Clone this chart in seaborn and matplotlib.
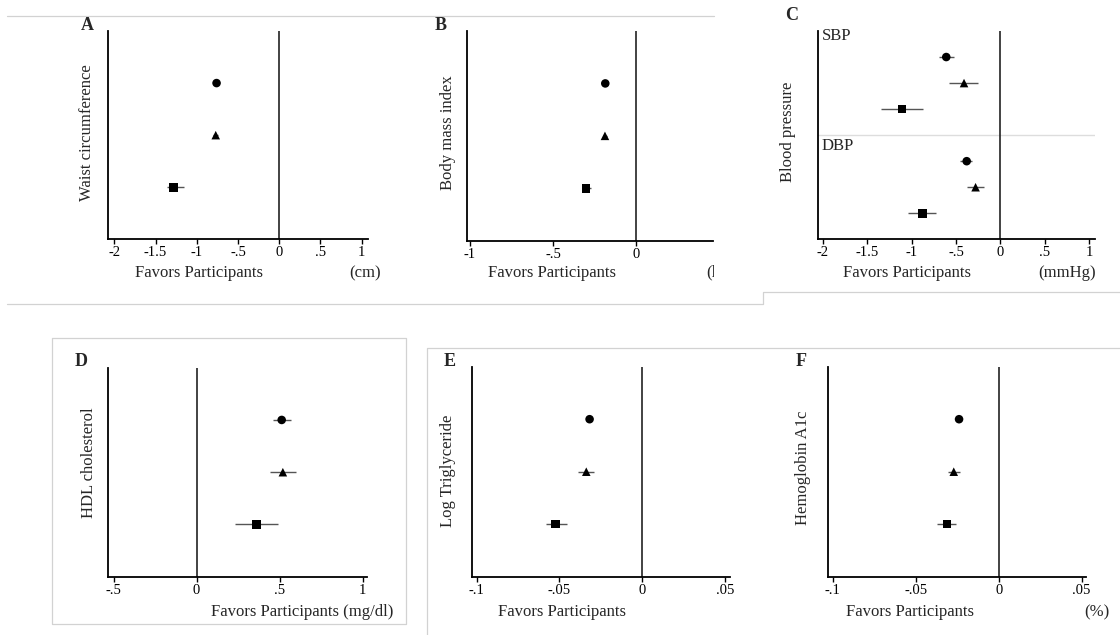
import numpy as np
import pandas as pd
import matplotlib
matplotlib.use("Agg")
import matplotlib.pyplot as plt
import seaborn as sns
from matplotlib.lines import Line2D
from matplotlib.transforms import Bbox, TransformedBbox

# ---------------- data ----------------
models = ["Model 1", "Model 2", "Model 3"]
model_markers = {"Model 1": "o", "Model 2": "^", "Model 3": "s"}

waist_est = [-0.76, -0.77, -1.28]
waist_lo = [-0.79, -0.80, -1.365]
waist_hi = [-0.73, -0.74, -1.155]

bmi_est = [-0.185, -0.187, -0.30]
bmi_lo = [-0.195, -0.197, -0.324]
bmi_hi = [-0.175, -0.177, -0.273]

sbp_est = [-0.61, -0.41, -1.107]
sbp_lo = [-0.69, -0.58, -1.34]
sbp_hi = [-0.525, -0.25, -0.87]

dbp_est = [-0.38, -0.28, -0.88]
dbp_lo = [-0.455, -0.38, -1.04]
dbp_hi = [-0.32, -0.18, -0.72]

hdl_est = [0.513, 0.52, 0.36]
hdl_lo = [0.46, 0.44, 0.23]
hdl_hi = [0.57, 0.60, 0.49]

tg_est = [-0.0318, -0.0338, -0.0524]
tg_lo = [-0.0330, -0.0387, -0.0584]
tg_hi = [-0.0306, -0.0290, -0.0453]

a1c_est = [-0.0239, -0.0271, -0.0311]
a1c_lo = [-0.0250, -0.0305, -0.0372]
a1c_hi = [-0.0228, -0.0235, -0.0260]

ticks_A = [-2, -1.5, -1, -0.5, 0, 0.5, 1]
ticklabels_A = ["-2", "-1.5", "-1", "-.5", "0", ".5", "1"]
ticks_B = [-1, -0.5, 0]
ticklabels_B = ["-1", "-.5", "0"]
ticks_D = [-0.5, 0, 0.5, 1]
ticklabels_D = ["-.5", "0", ".5", "1"]
ticks_E = [-0.1, -0.05, 0, 0.05]
ticklabels_E = ["-.1", "-.05", "0", ".05"]

# ---------------- style ----------------
sns.set_style("ticks")
plt.rcParams["font.family"] = ["Liberation Serif", "DejaVu Serif"]
plt.rcParams["axes.linewidth"] = 1.3

W, H = 1120, 635
fig = plt.figure(figsize=(W / 100, H / 100), dpi=100)


def fx(px):
    return px / W


def fy(py):
    return 1 - py / H


def make_ax(l, r, t, b):
    return fig.add_axes([fx(l), fy(b), fx(r) - fx(l), (b - t) / H])


def draw_points(ax, est, lo, hi, ypos):
    df = pd.DataFrame({"est": est, "lo": lo, "hi": hi, "y": ypos,
                       "model": models[:len(est)]})
    ax.hlines(df["y"], df["lo"], df["hi"], color="#555555", lw=1.0, zorder=2)
    sns.scatterplot(data=df, x="est", y="y", style="model", markers=model_markers,
                    color="black", s=38, linewidth=0, legend=False, ax=ax, zorder=3)


def style_ax(ax, xlim, ylim, ticks, ticklabels):
    ax.set_xlim(*xlim)
    ax.set_ylim(*ylim)
    ax.axvline(0, color="#222222", lw=1.2, zorder=1)
    ax.set_yticks([])
    ax.set_xticks(ticks)
    ax.set_xticklabels(ticklabels)
    ax.tick_params(axis="x", direction="out", length=3.5, width=1, pad=1.5,
                   labelsize=10.5, colors="black")
    for s in ["top", "right"]:
        ax.spines[s].set_visible(False)
    for s in ["left", "bottom"]:
        ax.spines[s].set_color("black")
    ax.set_xlabel("")
    ax.set_ylabel("")


y3 = [3, 2, 1]

# Panel A
axA = make_ax(107.7, 368.3, 31, 239.3)
draw_points(axA, waist_est, waist_lo, waist_hi, y3)
style_ax(axA, (-2.08, 1.08), (0, 4), ticks_A, ticklabels_A)

# Panel B
axB = make_ax(466.7, 713, 31, 240.7)
draw_points(axB, bmi_est, bmi_lo, bmi_hi, y3)
style_ax(axB, (-1.02, 0.464), (0, 4), ticks_B, ticklabels_B)

# Panel C
axC = make_ax(818.3, 1095, 31, 239.3)
draw_points(axC, sbp_est, sbp_lo, sbp_hi, [7, 6, 5])
draw_points(axC, dbp_est, dbp_lo, dbp_hi, [3, 2, 1])
style_ax(axC, (-2.05, 1.064), (0, 8), ticks_A, ticklabels_A)
axC.axhline(4, color="#dddddd", lw=1.0, zorder=0)
axC.text(0.012, 7.8, "SBP", fontsize=12, va="center", ha="left",
         transform=axC.get_yaxis_transform())
axC.text(0.012, 3.6, "DBP", fontsize=12, va="center", ha="left",
         transform=axC.get_yaxis_transform())

# Panel D
axD = make_ax(107.7, 366.7, 367.7, 576.7)
draw_points(axD, hdl_est, hdl_lo, hdl_hi, y3)
style_ax(axD, (-0.535, 1.025), (0, 4), ticks_D, ticklabels_D)

# Panel E
axE = make_ax(471.7, 730, 366.7, 576.7)
draw_points(axE, tg_est, tg_lo, tg_hi, y3)
style_ax(axE, (-0.103, 0.053), (0, 4), ticks_E, ticklabels_E)

# Panel F
axF = make_ax(828.3, 1086, 366.7, 576.7)
draw_points(axF, a1c_est, a1c_lo, a1c_hi, y3)
style_ax(axF, (-0.1027, 0.0526), (0, 4), ticks_E, ticklabels_E)

# ---------------- texts ----------------
lab_fs = 12
for letter, x, y in [("A", 87, 26), ("B", 441, 26), ("C", 792, 15),
                     ("D", 81, 361), ("E", 450, 362), ("F", 801, 362)]:
    fig.text(fx(x), fy(y), letter, fontsize=13, fontweight="bold",
             ha="center", va="center")

for lab, x, y in [("Waist circumference", 87, 133), ("Body mass index", 448, 133),
                  ("Blood pressure", 788, 132), ("HDL cholesterol", 89, 463),
                  ("Log Triglyceride", 448, 471), ("Hemoglobin A1c", 803, 468)]:
    fig.text(fx(x), fy(y), lab, fontsize=lab_fs, rotation=90, ha="center", va="center")

for lab, x, y in [("Favors Participants", 199, 273), ("Favors Participants", 552, 273),
                  ("Favors Participants", 907, 273),
                  ("Favors Participants (mg/dl)", 302, 612),
                  ("Favors Participants", 562, 612), ("Favors Participants", 910, 612),
                  ("(cm)", 365, 273), ("(mmHg)", 1067, 273), ("(%)", 1097, 612)]:
    fig.text(fx(x), fy(y), lab, fontsize=lab_fs, ha="center", va="center")

# clipped unit label of panel B
tB = fig.text(fx(706), fy(273), "(kg/m²)", fontsize=lab_fs, ha="left", va="center")
tB.set_clip_on(True)
tB.set_clip_box(TransformedBbox(Bbox([[0, 0], [fx(713.5), 1]]), fig.transFigure))

# ---------------- screenshot frame lines ----------------
fc = "#d2d2d2"
flw = 0.9


def fline(xs, ys):
    fig.add_artist(Line2D([fx(v) for v in xs], [fy(v) for v in ys], color=fc,
                          lw=flw, transform=fig.transFigure))


fline([7, 714], [16, 16])
fline([7, 763, 763, 1120], [304, 304, 291.7, 291.7])
fline([51.7, 405.7, 405.7, 51.7, 51.7], [338.3, 338.3, 624, 624, 338.3])
fline([1120, 426.7, 426.7], [348.3, 348.3, 635])

fig.savefig("out.png", dpi=100)
